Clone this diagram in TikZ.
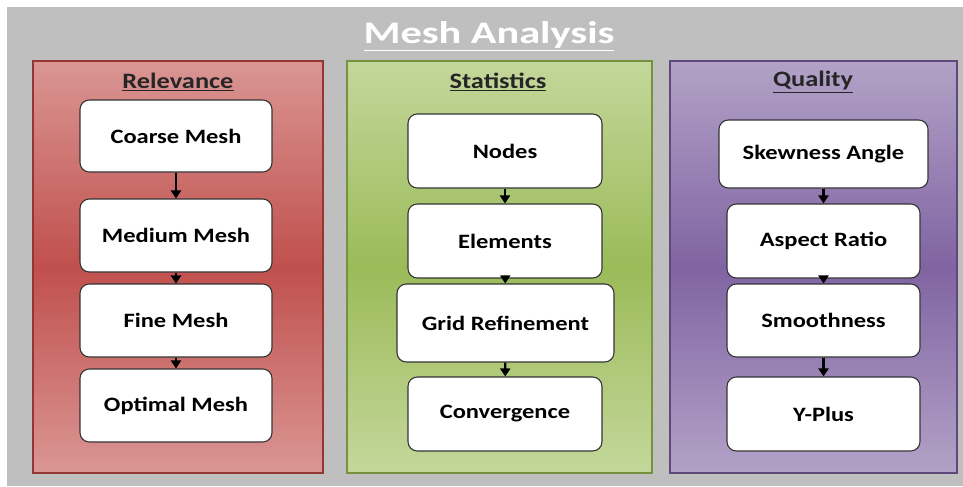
\documentclass[tikz,border=0pt]{standalone}
\usepackage{fontspec}
\setmainfont{Carlito}[FakeStretch=1.2]
\newfontfamily\titlefont{Carlito}[FakeStretch=1.35]
\usetikzlibrary{arrows.meta}
\definecolor{bggray}{RGB}{191,191,191}
\definecolor{redlight}{RGB}{218,150,148}
\definecolor{reddark}{RGB}{192,80,77}
\definecolor{redborder}{RGB}{150,54,52}
\definecolor{greenlight}{RGB}{196,215,155}
\definecolor{greendark}{RGB}{155,187,89}
\definecolor{greenborder}{RGB}{118,146,60}
\definecolor{purplelight}{RGB}{178,162,199}
\definecolor{purpledark}{RGB}{128,100,162}
\definecolor{purpleborder}{RGB}{95,73,122}
\tikzset{
  box/.style={draw=black!80, line width=0.8pt, fill=white, rounded corners=7pt,
    font=\fontsize{15.3}{18}\selectfont\bfseries, text=black, inner sep=0pt},
  heading/.style={font=\fontsize{16.5}{19}\selectfont\bfseries, text=black!85, inner sep=0pt},
  flow/.style={line width=1.6pt, draw=black, -{Triangle[length=6pt,width=7.5pt]}},
}
\begin{document}
\begin{tikzpicture}[x=0.75pt,y=-0.75pt]
\useasboundingbox (0,0) rectangle (963,486);
\fill[bggray] (7,7) rectangle (963,486);
\node[font=\titlefont\fontsize{23.5}{27}\selectfont\bfseries, text=white, inner sep=0pt] (title) at (489,36) {\underline{Mesh Analysis}};
% panels
\shade[top color=redlight, bottom color=redlight, middle color=reddark, draw=redborder, line width=0.8pt] (33,61) rectangle (323,473);
\shade[top color=greenlight, bottom color=greenlight, middle color=greendark, draw=greenborder, line width=0.8pt] (347,61) rectangle (652,473);
\shade[top color=purplelight, bottom color=purplelight, middle color=purpledark, draw=purpleborder, line width=0.8pt] (670,61) rectangle (957,473);
% headings
\node[heading] (h1) at (178,82) {\underline{Relevance}};
\node[heading] (h2) at (498,82) {\underline{Statistics}};
\node[heading] (h3) at (813,82) {\underline{Quality}};
% Relevance
\node[box, minimum width=144pt, minimum height=54pt] (coarse) at (176,136) {Coarse Mesh};
\node[box, minimum width=144pt, minimum height=54.75pt] (medium) at (176,235.5) {Medium Mesh};
\node[box, minimum width=144pt, minimum height=54.75pt] (fine) at (176,320.5) {Fine Mesh};
\node[box, minimum width=144pt, minimum height=54.75pt] (optimal) at (176,405.5) {Optimal Mesh};
% Statistics
\node[box, minimum width=145.5pt, minimum height=55.5pt] (nodes) at (505,151) {Nodes};
\node[box, minimum width=145.5pt, minimum height=55.5pt] (elements) at (505,241) {Elements};
\node[box, minimum width=162.75pt, minimum height=58.5pt] (grid) at (505.5,323) {Grid Refinement};
\node[box, minimum width=145.5pt, minimum height=55.5pt] (conv) at (505,414) {Convergence};
% Quality
\node[box, minimum width=156.75pt, minimum height=51pt] (skew) at (823.5,154) {Skewness Angle};
\node[box, minimum width=144.75pt, minimum height=55.5pt] (aspect) at (823.5,241) {Aspect Ratio};
\node[box, minimum width=144.75pt, minimum height=54.75pt] (smooth) at (823.5,320.5) {Smoothness};
\node[box, minimum width=144.75pt, minimum height=55.5pt] (yplus) at (823.5,414) {Y-Plus};
% arrows
\draw[flow] (coarse) -- (medium);
\draw[flow] (medium) -- (fine);
\draw[flow] (fine) -- (optimal);
\draw[flow] (nodes) -- (elements);
\draw[flow] (elements) -- (grid);
\draw[flow] (grid) -- (conv);
\draw[flow] (skew) -- (aspect);
\draw[flow] (aspect) -- (smooth);
\draw[flow] (smooth) -- (yplus);
\end{tikzpicture}
\end{document}
